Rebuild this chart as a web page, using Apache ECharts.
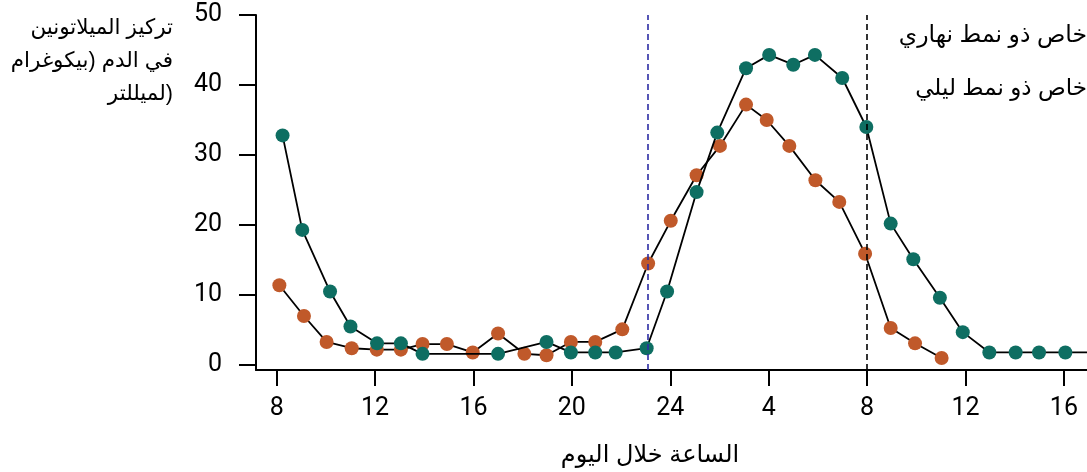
<!DOCTYPE html>
<html><head><meta charset="utf-8">
<script src="https://cdn.jsdelivr.net/npm/echarts@6/dist/echarts.min.js"></script>
<style>html,body{margin:0;padding:0;background:#fff}#c{width:1087px;height:472px}</style>
</head><body><div id="c"></div>
<script>
// Teal series (later phase)
const hoursTeal = [8.24, 9.04, 10.17, 11.0, 12.08, 13.05, 13.93, 17.0, 18.97, 19.96, 20.95, 21.78, 23.04, 23.87, 25.07, 25.91, 27.08, 28.02, 29.0, 29.88, 30.99, 31.97, 32.96, 33.88, 34.96, 35.89, 36.97, 38.04, 38.99, 40.06, 41.0];
const valuesTeal = [32.8, 19.3, 10.5, 5.5, 3.1, 3.1, 1.6, 1.6, 3.3, 1.8, 1.8, 1.8, 2.4, 10.5, 24.7, 33.2, 42.4, 44.3, 42.9, 44.3, 41.0, 34.0, 20.2, 15.1, 9.6, 4.7, 1.8, 1.8, 1.8, 1.8, 1.8];
// Orange series (earlier phase)
const hoursOrange = [8.11, 9.11, 10.03, 11.05, 12.07, 13.05, 13.93, 14.92, 15.97, 17.0, 18.07, 18.97, 19.96, 20.95, 22.05, 23.1, 24.02, 25.07, 26.02, 27.08, 27.92, 28.84, 29.9, 30.87, 31.92, 32.96, 33.95, 35.03];
const valuesOrange = [11.4, 7.0, 3.3, 2.4, 2.2, 2.2, 3.0, 3.0, 1.8, 4.5, 1.6, 1.4, 3.3, 3.3, 5.1, 14.5, 20.6, 27.1, 31.3, 37.2, 35.0, 31.3, 26.4, 23.3, 15.9, 5.3, 3.1, 1.0];
const tickHours = [8, 12, 16, 20, 24, 28, 32, 36, 40];
const yTicks = [0, 10, 20, 30, 40, 50];
const lightsOff = 23.1;
const lightsOn = 32;
const legendLine1 = 'خاص ذو نمط نهاري';
const legendLine2 = 'خاص ذو نمط ليلي';
const yTitleLines = ['تركيز الميلاتونين', 'في الدم (بيكوغرام', 'لميللتر)'];
const xTitle = 'الساعة خلال اليوم';

const TEAL = '#0e6e62';
const ORANGE = '#c0592a';
const numFont = 'Roboto, "Liberation Sans", sans-serif';
const arFont = '"Liberation Sans", "DejaVu Sans", sans-serif';

const chart = echarts.init(document.getElementById('c'), null, {renderer: 'canvas'});
const zip = (xs, ys) => xs.map((x, i) => [x, ys[i]]);

const arText = (text, x, y, size, align) => ({
  type: 'text', x: x, y: y, silent: true,
  style: {text: text, x: 0, y: 0, align: align, textAlign: align, verticalAlign: 'top', textVerticalAlign: 'top',
    fontSize: size, fontFamily: arFont, fill: '#000'}
});

chart.setOption({
  animation: false,
  backgroundColor: '#ffffff',
  grid: {left: 256, right: 0, top: 15, bottom: 102, containLabel: false},
  xAxis: {
    type: 'value', min: 7.16, max: 40.94,
    axisLine: {show: true, onZero: false, lineStyle: {color: '#000', width: 2}},
    axisTick: {show: true, length: 16, lineStyle: {color: '#000', width: 2}, customValues: tickHours},
    axisLabel: {show: true, customValues: tickHours, margin: 26, color: '#000', fontSize: 25, fontFamily: numFont,
      formatter: v => String(v > 24 ? v - 24 : v)},
    splitLine: {show: false}
  },
  yAxis: {
    type: 'value', min: -0.71, max: 50,
    axisLine: {show: true, onZero: false, lineStyle: {color: '#000', width: 2}},
    axisTick: {show: true, length: 17, lineStyle: {color: '#000', width: 2}, customValues: yTicks},
    axisLabel: {show: true, customValues: yTicks, margin: 34, color: '#000', fontSize: 25, fontFamily: numFont},
    splitLine: {show: false}
  },
  series: [
    {
      type: 'line', data: zip(hoursOrange, valuesOrange), symbol: 'circle', symbolSize: 14, showSymbol: true,
      lineStyle: {color: '#000', width: 1.8}, itemStyle: {color: ORANGE}, clip: true, z: 2
    },
    {
      type: 'line', data: zip(hoursTeal, valuesTeal), symbol: 'circle', symbolSize: 14, showSymbol: true,
      lineStyle: {color: '#000', width: 1.8}, itemStyle: {color: TEAL}, clip: true, z: 3,
      markLine: {
        silent: true, symbol: ['none', 'none'], label: {show: false},
        lineStyle: {type: [6, 4], width: 1.6},
        data: [
          {xAxis: lightsOff, lineStyle: {color: '#2c2ca4', type: [6, 4], width: 1.6}},
          {xAxis: lightsOn, lineStyle: {color: '#000', type: [6, 4], width: 1.6}}
        ]
      }
    }
  ],
  graphic: [
    arText(legendLine1, 1087, 24, 23.5, 'right'),
    arText(legendLine2, 1087, 77, 23, 'right'),
    arText(yTitleLines[0], 173, 17, 21.5, 'right'),
    arText(yTitleLines[1], 173, 50, 21.5, 'right'),
    arText(yTitleLines[2], 173, 83, 21.5, 'right'),
    arText(xTitle, 650, 443, 24, 'center')
  ]
});
</script></body></html>
